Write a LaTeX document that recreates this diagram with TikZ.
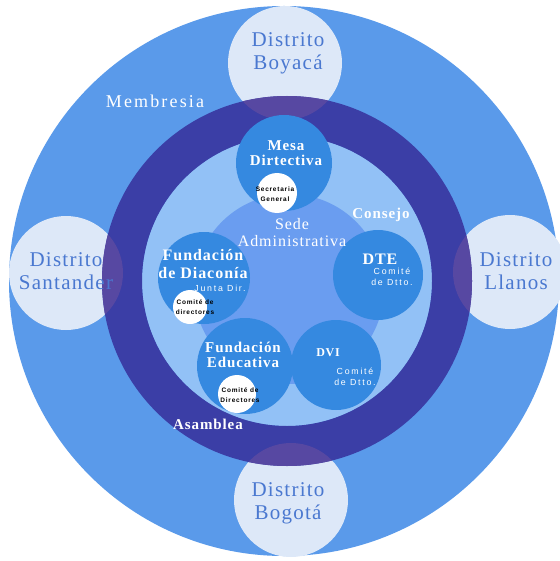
\documentclass[tikz,border=0pt]{standalone}
\usepackage{fontspec}
\setmainfont{Liberation Serif}
\newfontfamily\serifsp[LetterSpace=6]{Liberation Serif}
\newfontfamily\serifwide[LetterSpace=12]{Liberation Serif}
\newfontfamily\sanssp[LetterSpace=20]{Liberation Sans}
\newfontfamily\sanstiny[LetterSpace=12]{Liberation Sans}
\definecolor{outerblue}{HTML}{5A9AEA}
\definecolor{distfill}{HTML}{DDE8F8}
\definecolor{darkring}{HTML}{3B3EA6}
\definecolor{overlapc}{HTML}{5748A2}
\definecolor{lightring}{HTML}{92C1F6}
\definecolor{sedefill}{HTML}{6A9DF0}
\definecolor{nodeblue}{HTML}{3589E0}
\definecolor{disttext}{HTML}{4A78D0}
\tikzset{
  disk/.style={circle, inner sep=0pt, outer sep=0pt, draw=none, minimum size=#1},
  distlabel/.style={text=disttext, align=center, font=\serifsp\fontsize{21}{23}\selectfont},
  titlelabel/.style={text=white, align=center, font=\serifsp\bfseries\fontsize{15}{15}\selectfont},
  smalllabel/.style={text=white, align=center, font=\sanssp\fontsize{8.8}{11}\selectfont},
  tinylabel/.style={text=black, align=center, font=\sanstiny\bfseries\fontsize{6.5}{10}\selectfont},
}
\begin{document}
\begin{tikzpicture}[x=1pt,y=-1pt]
\useasboundingbox (0,0) rectangle (559,561);
% outer disk
\node[disk=550pt, fill=outerblue] (outer) at (284,281) {};
% district circles
\node[disk=114pt, fill=distfill] (boy) at (285,63) {};
\node[disk=114pt, fill=distfill] (san) at (66,273) {};
\node[disk=114pt, fill=distfill] (lla) at (510,272) {};
\node[disk=114pt, fill=distfill] (bog) at (291,500) {};
% light ring and sede
\coordinate (ring) at (287,281);
\node[disk=290pt, fill=lightring] (consejo) at (ring) {};
\node[disk=190pt, fill=sedefill] (sede) at (289,289) {};
% dark ring
\fill[darkring, even odd rule] (ring) circle (185pt) (ring) circle (145pt);
\foreach \d in {boy,san,lla,bog}{
  \begin{scope}
    \clip (\d.center) circle (57pt);
    \fill[overlapc, even odd rule] (ring) circle (185pt) (ring) circle (145pt);
  \end{scope}
}
% inner circles
\node[disk=96pt, fill=nodeblue] (mesa) at (284,163) {};
\node[disk=92pt, fill=nodeblue] (diac) at (204,278) {};
\node[disk=96pt, fill=nodeblue] (educ) at (245,366) {};
\node[disk=90pt, fill=nodeblue] (dte) at (378,275) {};
\node[disk=90pt, fill=nodeblue] (dvi) at (336,365) {};
% white circles
\node[disk=40pt, fill=white] (sec) at (277,193) {};
\node[disk=34pt, fill=white] (cdiac) at (190,307) {};
\node[disk=38pt, fill=white] (ceduc) at (237,394) {};
% district labels
\node[distlabel] (tboy) at (288,53) {Distrito\\Boyacá};
\node[distlabel] (tsan) at (66,271) {Distrito\\Santander};
\node[distlabel] (tlla) at (516,271) {Distrito\\Llanos};
\node[distlabel] (tbog) at (288,503) {Distrito\\Bogotá};
% ring labels
\node[text=white, font=\serifwide\fontsize{18}{18}\selectfont] (tmem) at (155,101) {Membresia};
\node[text=white, font=\serifsp\bfseries\fontsize{15}{15}\selectfont] (tasa) at (208,424) {Asamblea};
\node[text=white, font=\serifsp\bfseries\fontsize{15}{15}\selectfont] (tcon) at (381,215) {Consejo};
\node[text=white, align=center, font=\serifsp\fontsize{16}{17}\selectfont] (tsede) at (292,233) {Sede\\Administrativa};
% titles
\node[titlelabel] (tmesa) at (286,153) {Mesa\\Dirtectiva};
\node[titlelabel, font=\serifsp\bfseries\fontsize{16}{18}\selectfont] (tdiac) at (203,264) {Fundación\\de Diaconía};
\node[smalllabel] (tjunta) at (220,288) {Junta Dir.};
\node[titlelabel] (teduc) at (243,355) {Fundación\\Educativa};
\node[titlelabel, font=\serifsp\bfseries\fontsize{16}{16}\selectfont] (tdte) at (380,259) {DTE};
\node[smalllabel] (cdte) at (392,277) {Comité\\de Dtto.};
\node[titlelabel, font=\serifsp\bfseries\fontsize{12}{12}\selectfont] (tdvi) at (328,353) {DVI};
\node[smalllabel] (cdvi) at (355,377) {Comité\\de Dtto.};
% tiny labels
\node[tinylabel] (tsec) at (275,194) {Secretaria\\General};
\node[tinylabel] (tcd) at (195,307) {Comité de\\directores};
\node[tinylabel] (tce) at (240,395) {Comité de\\Directores};
\end{tikzpicture}
\end{document}
